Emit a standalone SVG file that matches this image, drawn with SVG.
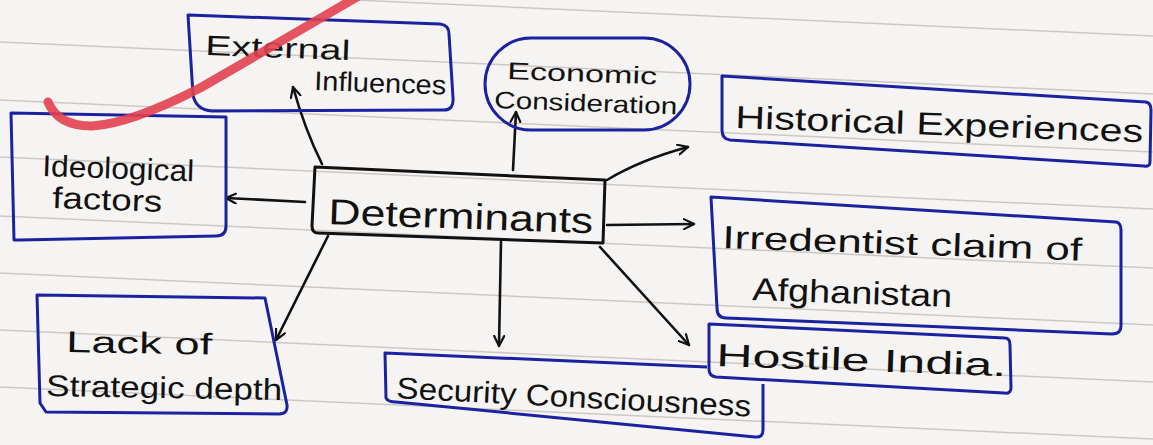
<svg xmlns="http://www.w3.org/2000/svg" width="1153" height="445" viewBox="0 0 1153 445">
<defs>
<style>
.rule{stroke:#8f8580;stroke-width:1.5;opacity:0.4;fill:none}
.box{fill:none;stroke:#1b22a0;stroke-width:3;stroke-linejoin:round}
.dbox{fill:none;stroke:#111;stroke-width:3;stroke-linejoin:round}
.lbl{font-family:"Liberation Sans",Arial,sans-serif;fill:#111}
.arr{fill:none;stroke:#111;stroke-width:2.6;stroke-linecap:round;marker-end:url(#ah)}
</style>
<marker id="ah" viewBox="0 0 12 12" refX="11" refY="6" markerWidth="12" markerHeight="12" markerUnits="userSpaceOnUse" orient="auto">
<path d="M1,1 L11,6 L1,11" fill="none" stroke="#111" stroke-width="2.2" stroke-linecap="round"/>
</marker>
</defs>
<rect width="1153" height="445" fill="#f6f4f2"/>
<g id="ruled-lines">
<line class="rule" x1="0" y1="-16" x2="1153" y2="36"/>
<line class="rule" x1="0" y1="42" x2="1153" y2="94"/>
<line class="rule" x1="0" y1="100" x2="1153" y2="152"/>
<line class="rule" x1="0" y1="157" x2="1153" y2="209"/>
<line class="rule" x1="0" y1="216" x2="1153" y2="268"/>
<line class="rule" x1="0" y1="273" x2="1153" y2="325"/>
<line class="rule" x1="0" y1="330" x2="1153" y2="382"/>
<line class="rule" x1="0" y1="387" x2="1153" y2="439"/>
</g>
<g id="connectors">
<path class="arr" d="M322,164 Q305,130 293,87"/>
<path class="arr" d="M513,170 L516,112"/>
<path class="arr" d="M305,202 L226,198"/>
<path class="arr" d="M607,180 Q640,160 688,147"/>
<path class="arr" d="M607,225 L694,224"/>
<path class="arr" d="M600,247 L689,345"/>
<path class="arr" d="M501,241 L499,346"/>
<path class="arr" d="M328,236 L276,340"/>
</g>
<g id="external-influences">
<path class="box" d="M188,15 L440,24 Q449,25 449,34 L453,98 Q454,110 444,110 L212,111 Q196,110 193,95 Z"/>
<text class="lbl" font-size="28" x="205" y="55" textLength="145" lengthAdjust="spacingAndGlyphs" transform="rotate(2 205 55)">External</text>
<text class="lbl" font-size="27" x="314" y="90" textLength="132" lengthAdjust="spacingAndGlyphs" transform="rotate(2 314 90)">Influences</text>
</g>
<g id="economic-consideration">
<rect class="box" x="485" y="38" width="205" height="92" rx="46" ry="46"/>
<text class="lbl" font-size="24" x="507" y="79" textLength="150" lengthAdjust="spacingAndGlyphs" transform="rotate(2 507 79)">Economic</text>
<text class="lbl" font-size="24" x="494" y="108" textLength="183" lengthAdjust="spacingAndGlyphs" transform="rotate(2 494 108)">Consideration</text>
</g>
<g id="historical-experiences">
<path class="box" d="M722,76 L1146,102 Q1151,103 1151,110 L1150,162 Q1150,167 1144,166 L730,140 Q722,139 722,130 Z"/>
<text class="lbl" font-size="32" x="735" y="128" textLength="408" lengthAdjust="spacingAndGlyphs" transform="rotate(2 735 128)">Historical Experiences</text>
</g>
<g id="ideological-factors">
<path class="box" d="M11,113 L226,117 L226,226 Q226,236 216,236 L20,240 L14,240 Z"/>
<text class="lbl" font-size="30" x="42" y="176" textLength="152" lengthAdjust="spacingAndGlyphs" transform="rotate(2 42 176)">Ideological</text>
<text class="lbl" font-size="30" x="52" y="208" textLength="110" lengthAdjust="spacingAndGlyphs" transform="rotate(2 52 208)">factors</text>
</g>
<g id="determinants">
<path class="dbox" d="M315,167 L605,180 L603,243 L318,233 Q312,233 312,226 Z"/>
<text class="lbl" font-size="36" x="328" y="224" textLength="265" lengthAdjust="spacingAndGlyphs" transform="rotate(2 328 224)">Determinants</text>
</g>
<g id="irredentist-claim">
<path class="box" d="M711,197 L1116,222 Q1121,223 1121,230 L1121,326 Q1121,334 1112,334 L726,318 Q717,318 717,308 Z"/>
<text class="lbl" font-size="32" x="722" y="248" textLength="360" lengthAdjust="spacingAndGlyphs" transform="rotate(2 722 248)">Irredentist claim of</text>
<text class="lbl" font-size="32" x="752" y="300" textLength="200" lengthAdjust="spacingAndGlyphs" transform="rotate(2 752 300)">Afghanistan</text>
</g>
<g id="security-consciousness">
<path class="box" d="M707,367 L385,353 L386,398 Q388,402 396,402 L755,437 Q763,438 763,430 L763,384"/>
<text class="lbl" font-size="30" x="396" y="398" textLength="355" lengthAdjust="spacingAndGlyphs" transform="rotate(3 396 398)">Security Consciousness</text>
</g>
<g id="hostile-india">
<path class="box" d="M709,324 L1005,338 Q1010,338 1010,345 L1011,388 Q1011,394 1004,393 L716,377 Q709,376 709,369 Z"/>
<text class="lbl" font-size="32" x="716" y="366" textLength="290" lengthAdjust="spacingAndGlyphs" transform="rotate(2 716 366)">Hostile India.</text>
</g>
<g id="lack-of-strategic-depth">
<path class="box" d="M37,295 L265,298 L287,405 Q288,414 279,414 L46,412 L40,403 Z"/>
<text class="lbl" font-size="30" x="66" y="352" textLength="146" lengthAdjust="spacingAndGlyphs" transform="rotate(1 66 352)">Lack of</text>
<text class="lbl" font-size="30" x="46" y="396" textLength="236" lengthAdjust="spacingAndGlyphs" transform="rotate(1 46 396)">Strategic depth</text>
</g>
<path id="highlighter-mark" d="M48,102 Q58,126 92,126 Q130,124 200,88 Q280,42 362,-6" fill="none" stroke="#e2414f" stroke-width="9" stroke-linecap="round" opacity="0.9"/>
</svg>
